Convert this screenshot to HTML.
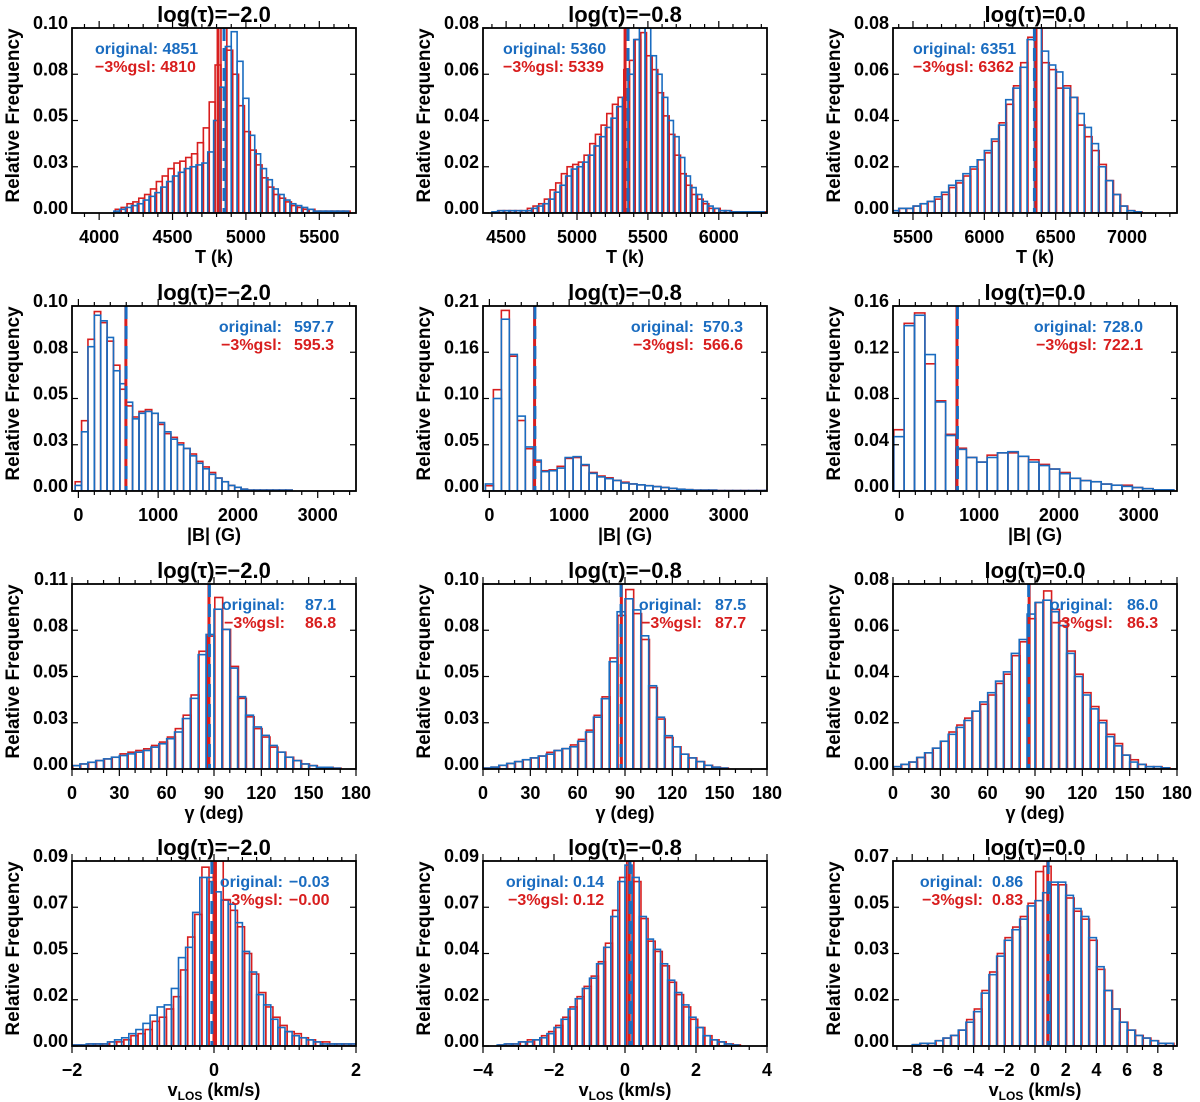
<!DOCTYPE html>
<html><head><meta charset="utf-8"><style>
html,body{margin:0;padding:0;background:#fff;}
svg{display:block;font-family:"Liberation Sans",Arial,sans-serif;font-weight:bold;}
</style></head><body>
<svg id="fig" width="1200" height="1102" viewBox="0 0 1200 1102"></svg>
<script>
// ---------- DATA ----------
const p1Orig=[0.001,0.002,0.003,0.004,0.005,0.007,0.009,0.011,0.014,0.017,0.020,0.022,0.024,0.025,0.026,0.027,0.033,0.050,0.068,0.090,0.098,0.082,0.062,0.042,0.032,0.024,0.018,0.013,0.010,0.007,0.005,0.004,0.003,0.002,0.001,0.001,0.001,0.001,0.001,0.001];
const p1Gsl=[0.002,0.003,0.005,0.006,0.008,0.010,0.013,0.017,0.020,0.024,0.027,0.028,0.030,0.032,0.038,0.046,0.060,0.080,0.100,0.088,0.075,0.058,0.044,0.034,0.026,0.019,0.014,0.010,0.008,0.006,0.004,0.003,0.002,0.002,0.001,0.001,0.001,0.001,0.001,0.001];
const p2Orig=[0.0005,0.001,0.001,0.001,0.001,0.001,0.001,0.002,0.003,0.004,0.006,0.009,0.012,0.016,0.019,0.020,0.022,0.025,0.029,0.033,0.037,0.041,0.046,0.050,0.060,0.075,0.080,0.080,0.068,0.060,0.050,0.040,0.033,0.024,0.016,0.011,0.008,0.005,0.003,0.002,0.001,0.001,0.0005,0.0005,0.0005,0.0005,0.0005,0.0005];
const p2Gsl=[0.0005,0.001,0.001,0.001,0.001,0.001,0.002,0.003,0.004,0.006,0.010,0.013,0.017,0.020,0.021,0.022,0.025,0.030,0.034,0.038,0.043,0.047,0.050,0.062,0.066,0.075,0.078,0.068,0.062,0.052,0.042,0.034,0.025,0.017,0.012,0.008,0.006,0.004,0.002,0.002,0.001,0.001,0.0005,0.0005,0.0005,0.0005,0.0005,0.0005];
const p3Orig=[0.001,0.002,0.002,0.003,0.004,0.005,0.007,0.009,0.012,0.014,0.017,0.020,0.023,0.027,0.032,0.038,0.049,0.054,0.063,0.075,0.080,0.070,0.064,0.061,0.054,0.050,0.043,0.037,0.030,0.020,0.014,0.008,0.003,0.001,0.0005];
const p3Gsl=[0.001,0.002,0.002,0.003,0.004,0.005,0.006,0.008,0.011,0.013,0.016,0.019,0.023,0.026,0.031,0.039,0.047,0.055,0.065,0.076,0.080,0.065,0.062,0.054,0.055,0.050,0.038,0.033,0.027,0.021,0.014,0.008,0.003,0.001,0.0005];
const p4Orig=[0.003,0.032,0.078,0.095,0.092,0.083,0.065,0.058,0.048,0.039,0.042,0.043,0.042,0.037,0.032,0.028,0.025,0.023,0.019,0.015,0.012,0.009,0.007,0.005,0.003,0.002,0.001,0.0005,0.0005,0.0005,0.0005,0.0005,0.0005,0.0005];
const p4Gsl=[0.005,0.038,0.082,0.097,0.091,0.081,0.068,0.055,0.046,0.040,0.043,0.044,0.042,0.036,0.031,0.029,0.026,0.023,0.020,0.016,0.013,0.010,0.007,0.005,0.003,0.002,0.001,0.0005,0.0005,0.0005,0.0005,0.0005,0.0005,0.0005];
const p5Orig=[0.008,0.105,0.195,0.155,0.085,0.050,0.035,0.022,0.023,0.026,0.038,0.039,0.030,0.020,0.016,0.014,0.012,0.009,0.008,0.007,0.006,0.005,0.004,0.003,0.002,0.0015,0.001,0.001,0.001,0.0005,0.0005,0.0005,0.0005,0.0005,0.0005,0.0005];
const p5Gsl=[0.006,0.115,0.205,0.153,0.080,0.048,0.033,0.023,0.024,0.028,0.037,0.038,0.029,0.021,0.017,0.015,0.012,0.010,0.008,0.007,0.006,0.005,0.004,0.003,0.002,0.0015,0.001,0.001,0.001,0.0005,0.0005,0.0005,0.0005,0.0005,0.0005,0.0005];
const p6Orig=[0.047,0.143,0.152,0.118,0.077,0.048,0.036,0.029,0.025,0.029,0.033,0.034,0.030,0.025,0.022,0.019,0.015,0.011,0.009,0.008,0.006,0.005,0.004,0.003,0.002,0.001,0.001];
const p6Gsl=[0.053,0.145,0.154,0.110,0.078,0.049,0.037,0.029,0.025,0.031,0.033,0.033,0.030,0.027,0.023,0.019,0.016,0.011,0.009,0.008,0.006,0.005,0.005,0.003,0.002,0.001,0.001];
const p7Orig=[0.002,0.003,0.004,0.005,0.006,0.007,0.008,0.009,0.010,0.011,0.013,0.015,0.018,0.022,0.030,0.042,0.068,0.080,0.095,0.083,0.060,0.043,0.032,0.025,0.020,0.014,0.010,0.007,0.005,0.003,0.002,0.001,0.001,0.0005,0,0];
const p7Gsl=[0.002,0.003,0.004,0.005,0.006,0.007,0.009,0.010,0.011,0.012,0.014,0.016,0.019,0.024,0.032,0.044,0.070,0.079,0.102,0.083,0.061,0.042,0.031,0.024,0.019,0.013,0.010,0.007,0.005,0.003,0.002,0.001,0.001,0.0005,0,0];
const p8Orig=[0.0005,0.001,0.002,0.003,0.004,0.005,0.006,0.007,0.008,0.010,0.011,0.012,0.015,0.020,0.028,0.038,0.058,0.085,0.092,0.086,0.072,0.045,0.028,0.018,0.012,0.008,0.006,0.004,0.002,0.001,0.0005,0,0,0,0,0];
const p8Gsl=[0.0005,0.001,0.002,0.003,0.004,0.005,0.006,0.007,0.009,0.010,0.011,0.013,0.016,0.021,0.029,0.039,0.060,0.083,0.097,0.084,0.070,0.044,0.027,0.017,0.012,0.008,0.006,0.004,0.002,0.001,0.0005,0,0,0,0,0];
const p9Orig=[0.001,0.002,0.003,0.005,0.007,0.009,0.012,0.015,0.018,0.021,0.025,0.029,0.033,0.038,0.042,0.050,0.056,0.067,0.072,0.073,0.068,0.062,0.050,0.040,0.032,0.026,0.020,0.014,0.010,0.006,0.003,0.002,0.001,0.001,0.0005,0];
const p9Gsl=[0.001,0.002,0.003,0.005,0.007,0.009,0.012,0.016,0.019,0.022,0.025,0.028,0.032,0.037,0.041,0.049,0.055,0.065,0.072,0.077,0.069,0.064,0.051,0.041,0.033,0.027,0.021,0.015,0.011,0.006,0.004,0.002,0.001,0.001,0.0005,0];
const p10Orig=[0.0005,0.0005,0.001,0.001,0.001,0.002,0.003,0.004,0.006,0.008,0.011,0.015,0.019,0.020,0.028,0.043,0.048,0.065,0.082,0.082,0.075,0.071,0.069,0.060,0.046,0.036,0.025,0.020,0.013,0.009,0.007,0.005,0.004,0.003,0.002,0.001,0.001,0.001,0.001,0.001];
const p10Gsl=[0.0005,0.0005,0.001,0.001,0.001,0.002,0.002,0.003,0.005,0.006,0.008,0.012,0.014,0.018,0.024,0.037,0.053,0.064,0.087,0.080,0.090,0.071,0.066,0.058,0.045,0.035,0.026,0.019,0.014,0.010,0.007,0.006,0.004,0.003,0.002,0.002,0.001,0.001,0.001,0.001];
const p11Orig=[0,0,0.0005,0.001,0.001,0.002,0.002,0.003,0.004,0.006,0.009,0.013,0.018,0.023,0.028,0.033,0.040,0.048,0.063,0.080,0.088,0.082,0.063,0.052,0.047,0.040,0.032,0.026,0.020,0.014,0.009,0.005,0.003,0.002,0.001,0.0005,0,0,0,0];
const p11Gsl=[0,0,0.0005,0.001,0.001,0.002,0.003,0.003,0.005,0.007,0.010,0.014,0.019,0.024,0.029,0.034,0.041,0.050,0.066,0.082,0.090,0.080,0.062,0.051,0.046,0.039,0.031,0.025,0.019,0.013,0.009,0.005,0.003,0.002,0.001,0.0005,0,0,0,0];
const p12Orig=[0,0,0.0005,0.001,0.001,0.002,0.003,0.004,0.006,0.009,0.013,0.020,0.027,0.034,0.040,0.044,0.048,0.053,0.055,0.058,0.062,0.062,0.057,0.052,0.049,0.041,0.030,0.021,0.014,0.009,0.006,0.004,0.003,0.002,0.001,0.001];
const p12Gsl=[0,0,0.0005,0.001,0.001,0.002,0.003,0.004,0.006,0.010,0.014,0.021,0.028,0.035,0.041,0.045,0.049,0.054,0.066,0.068,0.061,0.061,0.056,0.051,0.048,0.040,0.029,0.021,0.014,0.009,0.006,0.004,0.003,0.002,0.001,0.001];

const origMeans=[4851,5360,6351,597.7,570.3,728.0,87.1,87.5,86.0,-0.03,0.14,0.86];
const gslMeans=[4810,5339,6362,595.3,566.6,722.1,86.8,87.7,86.3,-0.00,0.12,0.83];
const origLabels=["4851","5360","6351","597.7","570.3","728.0","87.1","87.5","86.0","\u22120.03","0.14","0.86"];
const gslLabels=["4810","5339","6362","595.3","566.6","722.1","86.8","87.7","86.3","\u22120.00","0.12","0.83"];
const titles=["log(\u03c4)=\u22122.0","log(\u03c4)=\u22120.8","log(\u03c4)=0.0"];
const yTickLabels=[
 ["0.00","0.03","0.05","0.08","0.10"],["0.00","0.02","0.04","0.06","0.08"],["0.00","0.02","0.04","0.06","0.08"],
 ["0.00","0.03","0.05","0.08","0.10"],["0.00","0.05","0.10","0.16","0.21"],["0.00","0.04","0.08","0.12","0.16"],
 ["0.00","0.03","0.05","0.08","0.11"],["0.00","0.03","0.05","0.08","0.10"],["0.00","0.02","0.04","0.06","0.08"],
 ["0.00","0.02","0.05","0.07","0.09"],["0.00","0.02","0.04","0.07","0.09"],["0.00","0.02","0.03","0.05","0.07"]];
const yMaxes=[0.10,0.08,0.08,0.10,0.21,0.16,0.11,0.10,0.08,0.09,0.09,0.07];
const xMajorTicks=[
 [4000,4500,5000,5500],[4500,5000,5500,6000],[5500,6000,6500,7000],
 [0,1000,2000,3000],[0,1000,2000,3000],[0,1000,2000,3000],
 [0,30,60,90,120,150,180],[0,30,60,90,120,150,180],[0,30,60,90,120,150,180],
 [-2,0,2],[-4,-2,0,2,4],[-8,-6,-4,-2,0,2,4,6,8]];
const origSeries=[p1Orig,p2Orig,p3Orig,p4Orig,p5Orig,p6Orig,p7Orig,p8Orig,p9Orig,p10Orig,p11Orig,p12Orig];
const gslSeries=[p1Gsl,p2Gsl,p3Gsl,p4Gsl,p5Gsl,p6Gsl,p7Gsl,p8Gsl,p9Gsl,p10Gsl,p11Gsl,p12Gsl];

// ---------- AXIS CONFIG ----------
const cfg=[
 {xmin:3815,xmax:5750,b0:4100,bw:40,off:0.25,minor:100,xt:"T (k)"},
 {xmin:4337,xmax:6340,b0:4400,bw:40,off:0.25,minor:100,xt:"T (k)"},
 {xmin:5360,xmax:7350,b0:5350,bw:50,off:0.1,minor:100,xt:"T (k)"},
 {xmin:-80,xmax:3480,b0:-40,bw:80,off:0,minor:200,xt:"|B| (G)"},
 {xmin:-80,xmax:3480,b0:-50,bw:100,off:0,minor:200,xt:"|B| (G)"},
 {xmin:-80,xmax:3480,b0:-70,bw:130,off:0,minor:200,xt:"|B| (G)"},
 {xmin:0,xmax:180,b0:0,bw:5,off:0.1,minor:10,xt:"g"},
 {xmin:0,xmax:180,b0:0,bw:5,off:0.1,minor:10,xt:"g"},
 {xmin:0,xmax:180,b0:0,bw:5,off:0.1,minor:10,xt:"g"},
 {xmin:-2,xmax:2,b0:-2,bw:0.1,off:0.3,minor:0.2,xt:"v"},
 {xmin:-4,xmax:4,b0:-4,bw:0.2,off:0.25,minor:0.5,xt:"v"},
 {xmin:-9.25,xmax:9.25,b0:-9,bw:0.5,off:0.1,minor:1,xt:"v"}];
const colL=[72,483,893], rowT=[28,306,584,861], PW=284, PH=185;
const legX=[[282,294],[694,703],[1097,1103],[285,305],[702,715],[1113,1127],[283,289],[569,573],[983,992]];
const BLUE="#1a6cc0", RED="#d81e1e";
const NS="http://www.w3.org/2000/svg";
const svg=document.getElementById('fig');
function mk(tag,attrs,parent){const e=document.createElementNS(NS,tag);for(const k in attrs)e.setAttribute(k,attrs[k]);(parent||svg).appendChild(e);return e;}
function xs(p,v){const c=cfg[p];return colL[p%3]+(v-c.xmin)/(c.xmax-c.xmin)*PW;}
function ys(p,v){const r=Math.floor(p/3);return rowT[r]+PH-(v/yMaxes[p])*PH;}

for(let p=0;p<12;p++){
 const L=colL[p%3], T=rowT[Math.floor(p/3)], c=cfg[p];
 const g=mk('g',{});
 
 
 const cid='clip'+p;
 const cp=mk('clipPath',{id:cid},g); mk('rect',{x:L,y:T,width:PW,height:PH},cp);
 const bars=mk('g',{'clip-path':'url(#'+cid+')'},g);
 
 
 const series=[[gslSeries[p],RED,c.b0+c.bw*c.off,'gsl'],[origSeries[p],BLUE,c.b0,'orig']];
 for(const [arr,col,start,nm] of series){
  arr.forEach((v,i)=>{
   const x0=xs(p,start+i*c.bw), x1=xs(p,start+(i+1)*c.bw), y=ys(p,v), yb=ys(p,0);
   const r=mk('rect',{x:x0,y:y,width:Math.max(0,x1-x0),height:Math.max(0,yb-y),fill:'none',stroke:col,'stroke-width':1.6},bars);
   
   
  });
 }
 const rl=mk('line',{x1:xs(p,gslMeans[p]),x2:xs(p,gslMeans[p]),y1:T,y2:T+PH,stroke:RED,'stroke-width':3},bars);
 
 
 const bl=mk('line',{x1:xs(p,origMeans[p]),x2:xs(p,origMeans[p]),y1:T,y2:T+PH,stroke:BLUE,'stroke-width':3,'stroke-dasharray':'13 7'},bars);
 
 
 const fr=mk('rect',{x:L,y:T,width:PW,height:PH,fill:'none',stroke:'#000','stroke-width':1.8},g);
 
 
 const first=Math.ceil(c.xmin/c.minor)*c.minor;
 for(let v=first;v<=c.xmax+1e-9;v+=c.minor){
  const x=xs(p,v); const maj=xMajorTicks[p].some(m=>Math.abs(m-v)<1e-6);
  const len=maj?7:4;
  mk('line',{x1:x,x2:x,y1:T+PH,y2:T+PH+len,stroke:'#000','stroke-width':1.2},g);
  mk('line',{x1:x,x2:x,y1:T,y2:T-len,stroke:'#000','stroke-width':1.2},g);
 }
 xMajorTicks[p].forEach(v=>{
  const t=mk('text',{x:xs(p,v),y:T+PH+30,'text-anchor':'middle','font-size':18},g);
  t.textContent=(v<0?'\u2212'+Math.abs(v):String(v));
  
  
 });
 yTickLabels[p].forEach((lab,i)=>{
  const yv=yMaxes[p]*i/4, y=ys(p,yv);
  mk('line',{x1:L,x2:L+6,y1:y,y2:y,stroke:'#000','stroke-width':1.2},g);
  mk('line',{x1:L+PW,x2:L+PW-6,y1:y,y2:y,stroke:'#000','stroke-width':1.2},g);
  const t=mk('text',{x:L-4,y:y+1,'text-anchor':'end','font-size':18},g);
  t.textContent=lab;
  
  
 });
 const cy=T+PH/2-5, cx=L-60;
 const yt=mk('text',{x:cx,y:cy,'text-anchor':'middle','font-size':19,transform:'rotate(-90 '+cx+' '+cy+')',dy:7},g);
 yt.textContent='Relative Frequency';
 
 
 const tt=mk('text',{x:L+PW/2,y:T-6,'text-anchor':'middle','font-size':22},g);
 tt.textContent=titles[p%3];
 
 
 const xt=mk('text',{x:L+PW/2,y:T+PH+50,'text-anchor':'middle','font-size':18},g);
 
 
 if(c.xt==='g'){xt.textContent='\u03b3 (deg)';}
 else if(c.xt==='v'){
  const a=mk('tspan',{},xt);a.textContent='v';
  const b=mk('tspan',{'font-size':12,dy:4},xt);b.textContent='LOS';
  const d=mk('tspan',{dy:-4},xt);d.textContent=' (km/s)';
 } else xt.textContent=c.xt;
 const ly1=T+26, ly2=T+44;
 const lg=mk('g',{'font-size':16},g);
 
 
 if(p<3){
  const lx=[95,503,913][p];
  const a=mk('text',{x:lx,y:ly1,fill:BLUE},lg);a.textContent='original: '+origLabels[p];
  
  
  const b=mk('text',{x:lx,y:ly2,fill:RED},lg);b.textContent='\u22123%gsl: '+gslLabels[p];
  
  
 } else {
  const pos=legX[p-3];
  const a=mk('text',{x:pos[0],y:ly1,fill:BLUE,'text-anchor':'end'},lg);a.textContent='original:';
  
  
  const a2=mk('text',{x:pos[1],y:ly1,fill:BLUE},lg);a2.textContent=origLabels[p];
  
  
  const b=mk('text',{x:pos[0],y:ly2,fill:RED,'text-anchor':'end'},lg);b.textContent='\u22123%gsl:';
  
  
  const b2=mk('text',{x:pos[1],y:ly2,fill:RED},lg);b2.textContent=gslLabels[p];
  
  
 }
}
</script>
</body></html>
